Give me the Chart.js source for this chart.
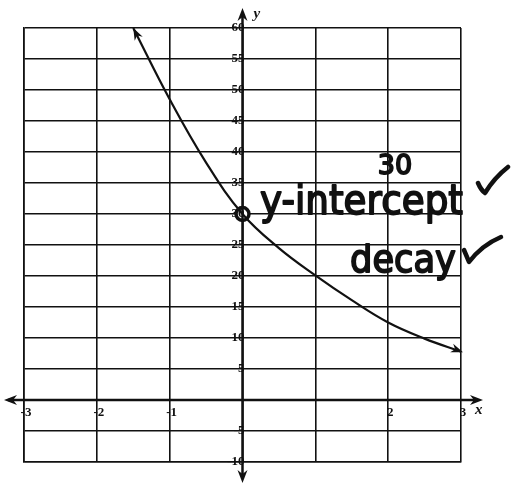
<!DOCTYPE html>
<html lang="en">
<head>
    <meta charset="UTF-8">
    <title>Exponential decay</title>
    <script src="https://cdn.jsdelivr.net/npm/chart.js"></script>
    <style>
        body {
            margin: 0;
            background-color: white;
        }
        #graph {
            display: block;
        }
    </style>
</head>
<body>
    <canvas id="graph" width="511" height="484"></canvas>

    <script>
        // curve points
        const curveX = [-1.5, -1, -0.5, 0, 0.5, 1, 1.5, 2, 2.5, 3];
        const curveY = [60, 48.5, 38.3, 30, 24.5, 20.1, 16.1, 12.5, 9.9, 7.8];

        // marked y-intercept
        const interceptX = [0];
        const interceptY = [30];

        // axis labels
        const xTickLabels = ['-3', '-2', '-1', '2', '3'];
        const xTickValues = [-3, -2, -1, 2, 3];
        const yTickLabels = ['60', '55', '50', '45', '40', '35', '30', '25', '20', '15', '10', '5', '-5', '-10'];
        const yTickValues = [60, 55, 50, 45, 40, 35, 30, 25, 20, 15, 10, 5, -5, -10];

        // notes written on the graph
        const noteValue = '30';
        const noteIntercept = 'y-intercept';
        const noteDecay = 'decay';

        const INK = '#111';

        function arrowHead(ctx, tipX, tipY, angle, len, wide) {
            ctx.save();
            ctx.translate(tipX, tipY);
            ctx.rotate(angle);
            ctx.beginPath();
            ctx.moveTo(0, 0);
            ctx.lineTo(-len, -wide);
            ctx.lineTo(-len * 0.7, 0);
            ctx.lineTo(-len, wide);
            ctx.closePath();
            ctx.fillStyle = INK;
            ctx.fill();
            ctx.restore();
        }

        function checkMark(ctx, pts) {
            ctx.save();
            ctx.strokeStyle = INK;
            ctx.lineWidth = 4.5;
            ctx.lineCap = 'round';
            ctx.lineJoin = 'round';
            ctx.beginPath();
            ctx.moveTo(pts[0][0], pts[0][1]);
            ctx.quadraticCurveTo(pts[1][0], pts[1][1], pts[2][0], pts[2][1]);
            ctx.quadraticCurveTo(pts[3][0], pts[3][1], pts[4][0], pts[4][1]);
            ctx.stroke();
            ctx.restore();
        }

        // marker-pen style text: filled and then outlined to thicken the strokes
        function penText(ctx, text, x, y, size, maxWidth) {
            ctx.font = size + 'px "DejaVu Sans"';
            ctx.lineWidth = 1.8;
            ctx.lineJoin = 'round';
            ctx.strokeStyle = INK;
            ctx.fillText(text, x, y, maxWidth);
            ctx.strokeText(text, x, y, maxWidth);
        }

        const worksheetPlugin = {
            id: 'worksheet',
            afterDatasetsDraw(chart) {
                const ctx = chart.ctx;
                const xs = chart.scales.x;
                const ys = chart.scales.y;
                const x0 = xs.getPixelForValue(0);
                const y0 = ys.getPixelForValue(0);

                ctx.save();
                ctx.strokeStyle = INK;
                ctx.lineWidth = 2.5;
                // x axis
                ctx.beginPath();
                ctx.moveTo(8, y0);
                ctx.lineTo(478, y0);
                ctx.stroke();
                arrowHead(ctx, 4, y0, Math.PI, 13, 5);
                arrowHead(ctx, 483, y0, 0, 13, 5);
                // y axis
                ctx.beginPath();
                ctx.moveTo(x0, 12);
                ctx.lineTo(x0, 478);
                ctx.stroke();
                arrowHead(ctx, x0, 8, -Math.PI / 2, 13, 5);
                arrowHead(ctx, x0, 483, Math.PI / 2, 13, 5);

                // tick labels
                ctx.fillStyle = INK;
                ctx.font = 'bold 13px "Liberation Serif"';
                ctx.textAlign = 'right';
                ctx.textBaseline = 'middle';
                yTickLabels.forEach((t, i) => {
                    ctx.fillText(t, x0 + 2, ys.getPixelForValue(yTickValues[i]));
                });
                ctx.font = 'bold 13px "Liberation Serif"';
                ctx.textAlign = 'center';
                ctx.textBaseline = 'top';
                xTickLabels.forEach((t, i) => {
                    ctx.fillText(t, xs.getPixelForValue(xTickValues[i]) + 2, y0 + 6);
                });
                ctx.font = 'italic bold 15px "Liberation Serif"';
                ctx.textAlign = 'left';
                ctx.textBaseline = 'alphabetic';
                ctx.fillText('y', x0 + 11, 18);
                ctx.fillText('x', 475, y0 + 14);

                // arrows on the ends of the curve
                const pts = chart.getDatasetMeta(0).data;
                const a = pts[0], b = pts[1];
                arrowHead(ctx, a.x, a.y, Math.atan2(a.y - b.y, a.x - b.x), 12, 4.5);
                const c = pts[pts.length - 1], d = pts[pts.length - 2];
                arrowHead(ctx, c.x + 2, c.y + 0.5, Math.atan2(c.y - d.y, c.x - d.x), 12, 4.5);

                // handwritten notes
                ctx.fillStyle = INK;
                ctx.textAlign = 'center';
                penText(ctx, noteValue, 395, 174, 27);
                ctx.textAlign = 'left';
                penText(ctx, noteIntercept, 260, 214, 41, 203);
                penText(ctx, noteDecay, 350, 272, 38, 106);

                checkMark(ctx, [[478, 183], [481, 190], [485, 193], [494, 178], [508, 167]]);
                checkMark(ctx, [[464, 250], [467, 257], [469, 262], [482, 245], [501, 237]]);
                ctx.restore();
            }
        };

        const gridLine = {
            color: INK,
            lineWidth: 1.6,
            drawTicks: false
        };

        new Chart(document.getElementById('graph'), {
            type: 'scatter',
            data: {
                datasets: [{
                    data: curveX.map((x, i) => ({ x: x, y: curveY[i] })),
                    showLine: true,
                    borderColor: INK,
                    borderWidth: 2.2,
                    pointRadius: 0,
                    tension: 0.4,
                    fill: false
                }, {
                    data: interceptX.map((x, i) => ({ x: x, y: interceptY[i] })),
                    pointRadius: 6.5,
                    borderWidth: 3.5,
                    borderColor: INK,
                    backgroundColor: 'white'
                }]
            },
            options: {
                responsive: false,
                animation: false,
                layout: {
                    padding: { left: 24, right: 50, top: 28, bottom: 22 }
                },
                plugins: {
                    legend: { display: false },
                    tooltip: { enabled: false }
                },
                scales: {
                    x: {
                        type: 'linear',
                        min: -3,
                        max: 3,
                        ticks: { stepSize: 1, display: false },
                        grid: gridLine,
                        border: { color: INK, width: 1.6 }
                    },
                    y: {
                        type: 'linear',
                        min: -10,
                        max: 60,
                        ticks: { stepSize: 5, display: false },
                        grid: gridLine,
                        border: { color: INK, width: 1.6 }
                    }
                }
            },
            plugins: [worksheetPlugin]
        });
    </script>
</body>
</html>
